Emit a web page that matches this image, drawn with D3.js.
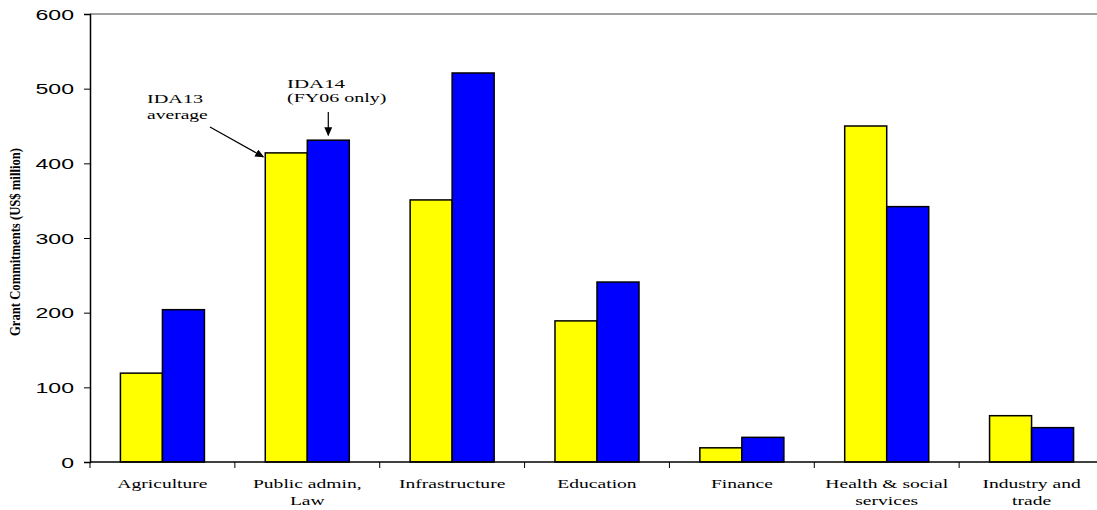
<!DOCTYPE html>
<html>
<head>
<meta charset="utf-8">
<script src="https://cdn.jsdelivr.net/npm/d3@7"></script>
<style>
  body { margin: 0; background: #fff; }
</style>
</head>
<body>
<script>
const categories = [
  ["Agriculture"],
  ["Public admin,", "Law"],
  ["Infrastructure"],
  ["Education"],
  ["Finance"],
  ["Health & social", "services"],
  ["Industry and", "trade"]
];
const series = ["IDA13 average", "IDA14 (FY06 only)"];
const ida13 = [119, 414, 351, 189, 19, 450, 62];
const ida14 = [204, 431, 521, 241, 33, 342, 46];
const yTicks = [0, 100, 200, 300, 400, 500, 600];

const FONT = "'Liberation Serif', 'DejaVu Serif', serif";
const width = 1097, height = 510;
const plotL = 90, plotR = 1104, plotT = 14, plotB = 462;
const SX = 1.45; // the source picture is stretched sideways

const svg = d3.select("body").append("svg")
  .attr("width", width)
  .attr("height", height)
  .style("font-family", FONT);

// wide text, like the original
function wide(g, x, y, str, size, sx, anchor) {
  return g.append("text")
    .attr("transform", `translate(${x},${y}) scale(${sx},1)`)
    .attr("font-size", size)
    .attr("text-anchor", anchor || "start")
    .attr("fill", "#000")
    .text(str);
}

const x0 = d3.scaleBand()
  .domain(d3.range(categories.length))
  .range([plotL, plotR]);
const x1 = d3.scaleBand()
  .domain(series)
  .range([x0.bandwidth() * 0.21, x0.bandwidth() * 0.79]);
const y = d3.scaleLinear().domain([0, 600]).range([plotB, plotT]);
const colors = d3.scaleOrdinal().domain(series).range(["#ffff00", "#0000ff"]);

// top border
svg.append("line")
  .attr("x1", plotL).attr("x2", width)
  .attr("y1", y(600)).attr("y2", y(600))
  .attr("stroke", "#808080").attr("stroke-width", 1.5);

const groups = svg.selectAll(".grp")
  .data(categories.map((c, i) => ({i, vals: [ida13[i], ida14[i]]})))
  .enter().append("g")
  .attr("class", "grp")
  .attr("transform", d => `translate(${x0(d.i)},0)`);

groups.selectAll("rect")
  .data(d => d.vals.map((v, k) => ({s: series[k], v})))
  .enter().append("rect")
  .attr("x", d => x1(d.s))
  .attr("width", x1.bandwidth())
  .attr("y", d => y(d.v))
  .attr("height", d => y(0) - y(d.v))
  .attr("fill", d => colors(d.s))
  .attr("stroke", "#000")
  .attr("stroke-width", 1.5);

// y axis
const yAxis = svg.append("g")
  .attr("transform", `translate(${plotL},0)`)
  .call(d3.axisLeft(y).tickValues(yTicks).tickSize(6).tickFormat(""));
yAxis.select(".domain").attr("stroke", "#000").attr("stroke-width", 1.5);
yAxis.selectAll(".tick line").attr("stroke", "#000");
yAxis.selectAll(".tick").each(function(d) {
  wide(d3.select(this), -16, 5, d, 14, 1.65, "end");
});

// x axis
const xAxis = svg.append("g")
  .attr("transform", `translate(0,${plotB})`);
xAxis.append("line")
  .attr("x1", plotL).attr("x2", width)
  .attr("stroke", "#000").attr("stroke-width", 1.5);
xAxis.selectAll(".xt")
  .data(d3.range(categories.length))
  .enter().append("line")
  .attr("x1", i => plotL + i * x0.step())
  .attr("x2", i => plotL + i * x0.step())
  .attr("y1", 0).attr("y2", 6)
  .attr("stroke", "#000");
categories.forEach((c, i) => {
  c.forEach((line, k) => {
    wide(xAxis, x0(i) + x0.bandwidth() / 2, 25.5 + k * 17.5, line, 13.5, SX, "middle");
  });
});

// y label
svg.append("text")
  .attr("transform", `translate(20,242) scale(1.5,1) rotate(-90)`)
  .attr("text-anchor", "middle")
  .attr("font-size", 9.5)
  .attr("font-weight", "bold")
  .attr("textLength", 188)
  .attr("lengthAdjust", "spacingAndGlyphs")
  .text("Grant Commitments (US$ million)");

// annotations
svg.append("defs").html(`
  <marker id="arr" markerWidth="10" markerHeight="10" refX="8" refY="4" orient="auto" markerUnits="userSpaceOnUse">
    <path d="M0,0 L9,4 L0,8 z" fill="#000"/>
  </marker>`);

const ann = svg.append("g");
wide(ann, 147, 103, "IDA13", 13.5, 1.5);
wide(ann, 147, 119, "average", 13.5, 1.45);
wide(ann, 287, 88, "IDA14", 13.5, 1.55);
wide(ann, 287, 102, "(FY06 only)", 13.5, 1.48);

const g1 = x0(1);
ann.append("line")
  .attr("x1", 210).attr("y1", 127)
  .attr("x2", g1 + x1(series[0]) - 2).attr("y2", y(ida13[1]) + 4)
  .attr("stroke", "#000").attr("stroke-width", 1.2)
  .attr("marker-end", "url(#arr)");
ann.append("line")
  .attr("x1", g1 + x1(series[1]) + x1.bandwidth() / 2).attr("y1", 112)
  .attr("x2", g1 + x1(series[1]) + x1.bandwidth() / 2).attr("y2", y(ida14[1]) - 5)
  .attr("stroke", "#000").attr("stroke-width", 1.2)
  .attr("marker-end", "url(#arr)");
</script>
</body>
</html>
